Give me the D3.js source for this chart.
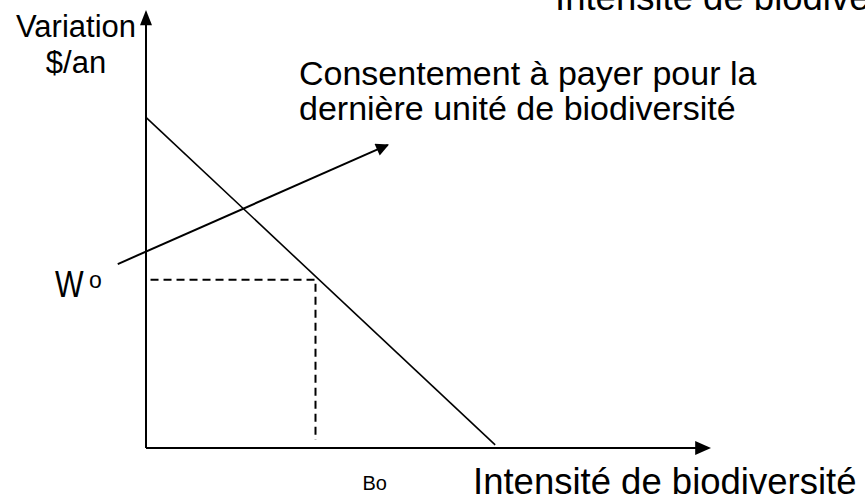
<!DOCTYPE html>
<html>
<head>
<meta charset="utf-8">
<script src="https://cdn.jsdelivr.net/npm/d3@7"></script>
<style>
  body { margin: 0; background: white; }
  svg { display: block; font-family: Arial, "Liberation Sans", sans-serif; }
</style>
</head>
<body>
<div class="chart"></div>
<script>
// demand curve: willingness to pay vs biodiversity intensity
var demandX = [0, 61.8];
var demandY = [75.5, 0.7];

// equilibrium point (Bo, Wo)
var pointX = [30];
var pointY = [38.4];

// annotation arrow (from the W side up to the label)
var arrowX = [-5, 42.8];
var arrowY = [42, 69.2];

var labels = {
  yTitle: ['Variation', '$/an'],
  xTitle: 'Intensité de biodiversité',
  note: ['Consentement à payer pour la', 'dernière unité de biodiversité'],
  wo: ['W', 'o'],
  bo: 'Bo'
};

var width = 865, height = 499;

var svg = d3.select('.chart')
  .append('svg')
  .attr('width', width)
  .attr('height', height);

var x = d3.scaleLinear().domain([0, 100]).range([146, 711]);
var y = d3.scaleLinear().domain([0, 100]).range([448, 10]);

// axes with arrowheads
svg.append('line')
  .attr('x1', x(0)).attr('y1', y(0))
  .attr('x2', x(0)).attr('y2', y(97))
  .attr('stroke', 'black').attr('stroke-width', 2);
svg.append('path')
  .attr('d', 'M' + (x(0) - 6) + ',' + (y(96.5)) + 'L' + x(0) + ',' + y(100) + 'L' + (x(0) + 6) + ',' + y(96.5) + 'Z')
  .attr('fill', 'black');

svg.append('line')
  .attr('x1', x(0)).attr('y1', y(0))
  .attr('x2', x(97.5)).attr('y2', y(0))
  .attr('stroke', 'black').attr('stroke-width', 2);
svg.append('path')
  .attr('d', 'M' + x(97.2) + ',' + (y(0) - 7) + 'L' + x(100) + ',' + y(0) + 'L' + x(97.2) + ',' + (y(0) + 7) + 'Z')
  .attr('fill', 'black');

// demand line
var line = d3.line()
  .x(function(d){ return x(d[0]); })
  .y(function(d){ return y(d[1]); });

svg.append('path')
  .datum(d3.zip(demandX, demandY))
  .attr('d', line)
  .attr('fill', 'none')
  .attr('stroke', 'black')
  .attr('stroke-width', 1.6);

// dashed guides
svg.append('path')
  .datum([[0.8, pointY[0]], [pointX[0], pointY[0]], [pointX[0], 1.8]])
  .attr('d', line)
  .attr('fill', 'none')
  .attr('stroke', 'black')
  .attr('stroke-width', 2)
  .attr('stroke-dasharray', '8,5');

// annotation arrow
svg.append('defs').append('marker')
  .attr('id', 'head')
  .attr('viewBox', '0 0 10 10')
  .attr('refX', 9).attr('refY', 5)
  .attr('markerWidth', 16).attr('markerHeight', 13)
  .attr('markerUnits', 'userSpaceOnUse')
  .attr('orient', 'auto')
  .append('path')
  .attr('d', 'M0,0L10,5L0,10Z')
  .attr('fill', 'black');

svg.append('path')
  .datum(d3.zip(arrowX, arrowY))
  .attr('d', line)
  .attr('fill', 'none')
  .attr('stroke', 'black')
  .attr('stroke-width', 2)
  .attr('marker-end', 'url(#head)');

// texts
svg.selectAll('.ytitle')
  .data(labels.yTitle)
  .enter().append('text')
  .attr('class', 'ytitle')
  .attr('x', 76)
  .attr('y', function(d, i){ return 37 + i * 36; })
  .attr('text-anchor', 'middle')
  .attr('font-size', 31)
  .text(function(d){ return d; });

svg.selectAll('.note')
  .data(labels.note)
  .enter().append('text')
  .attr('class', 'note')
  .attr('x', 299)
  .attr('y', function(d, i){ return 85 + i * 35; })
  .attr('font-size', 34)
  .text(function(d){ return d; });

svg.append('text')
  .attr('x', 473).attr('y', 494)
  .attr('font-size', 36.5)
  .text(labels.xTitle);

// clipped copy at the top
svg.append('text')
  .attr('x', 555).attr('y', 10)
  .attr('font-size', 36.5)
  .text(labels.xTitle);

svg.append('text')
  .attr('transform', 'translate(55,297) scale(0.82,1)')
  .attr('font-size', 37)
  .text(labels.wo[0]);
svg.append('text')
  .attr('x', 89).attr('y', 288)
  .attr('font-size', 23)
  .text(labels.wo[1]);

svg.append('text')
  .attr('x', x(pointX[0]) + 47).attr('y', 490)
  .attr('font-size', 20)
  .text(labels.bo);
</script>
</body>
</html>
